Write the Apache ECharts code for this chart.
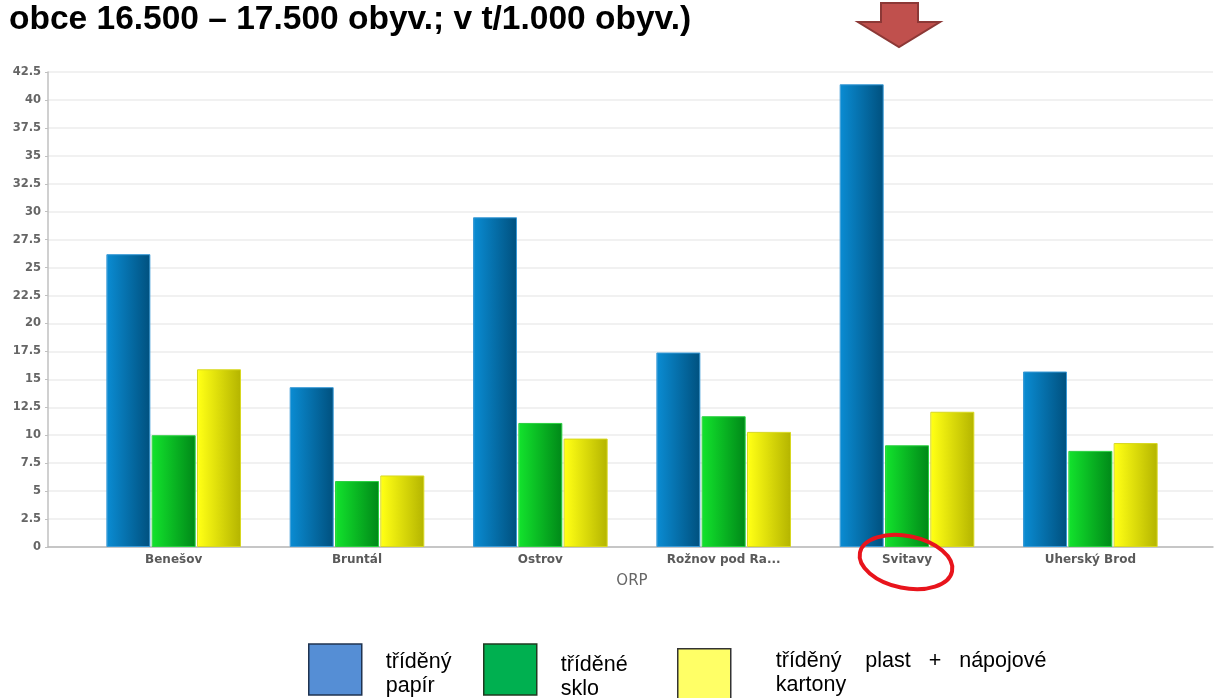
<!DOCTYPE html>
<html>
<head>
<meta charset="utf-8">
<script src="https://cdn.jsdelivr.net/npm/echarts@6/dist/echarts.min.js"></script>
<style>html,body{margin:0;padding:0;background:#fff;}#c{width:1215px;height:698px;}</style>
</head>
<body>
<div id="c"></div>
<script>
const titleText = 'obce 16.500 – 17.500 obyv.; v t/1.000 obyv.)';
const categories = ['Benešov', 'Bruntál', 'Ostrov', 'Rožnov pod Ra...', 'Svitavy', 'Uherský Brod'];
const seriesNames = ['tříděný papír', 'tříděné sklo', 'tříděný plast + nápojové kartony'];
const paper = [26.2, 14.3, 29.5, 17.4, 41.4, 15.7];
const glass = [10.0, 5.9, 11.1, 11.7, 9.1, 8.6];
const plastic = [15.9, 6.4, 9.7, 10.3, 12.1, 9.3];
const xAxisName = 'ORP';
const legendLines = [['tříděný', 'papír'], ['tříděné', 'sklo'], ['tříděný    plast   +   nápojové', 'kartony']];

function grad(c1, c2, c3) {
  return new echarts.graphic.LinearGradient(0, 0, 1, 0, [
    {offset: 0, color: c1}, {offset: 0.04, color: c2}, {offset: 1, color: c3}
  ]);
}
const barStyles = [
  {color: grad('#5ab4e6', '#0a8ad0', '#00507e'), borderColor: '#3a9ad6'},
  {color: grad('#6ef27a', '#12e02c', '#008818'), borderColor: '#2ad040'},
  {color: grad('#ffff9a', '#ffff14', '#b4b400'), borderColor: '#d8d820'}
];
const values = [paper, glass, plastic];

const chart = echarts.init(document.getElementById('c'), null, {renderer: 'canvas'});
const yAxisCommon = {type: 'value', min: 0, max: 42.5, interval: 2.5};
const fontAxis = 'DejaVu Sans';
const tStyle = {fontFamily: 'Liberation Sans', fontSize: 21.5, color: '#000', lineHeight: 24};
function legendTextStyle(shiftPx, padLeft) {
  return Object.assign({padding: [0, 0, 0, padLeft],
    rich: {t: Object.assign({}, tStyle), s: {fontSize: 1, lineHeight: shiftPx * 2}}}, tStyle);
}
function legendFormatter(lines, shiftPx) {
  const body = lines.map(l => '{t|' + l + '}').join('\n');
  return shiftPx > 0 ? '{s| }\n' + body : body;
}

const option = {
  backgroundColor: '#ffffff',
  animation: false,
  title: {
    text: titleText, left: 9, top: 3, padding: 0,
    textStyle: {fontFamily: 'Liberation Sans', fontWeight: 'bold', fontSize: 33.5, color: '#000'}
  },
  grid: [
    {left: 48, right: 2, top: 72, bottom: 151},
    {left: 82, right: 33, top: 72, bottom: 151}
  ],
  xAxis: [
    {type: 'value', gridIndex: 0, min: 0, max: 1, show: true, axisLine: {show: true, lineStyle: {color: '#b8b8b8', width: 1.5}},
      axisTick: {show: false}, axisLabel: {show: false}, splitLine: {show: false}},
    {type: 'category', gridIndex: 1, data: categories,
      axisLine: {show: false}, axisTick: {show: false},
      axisLabel: {color: '#5a5a5a', fontFamily: fontAxis, fontWeight: 'bold', fontSize: 12, margin: 7},
      name: xAxisName, nameLocation: 'middle', nameGap: 27,
      nameTextStyle: {color: '#666', fontFamily: fontAxis, fontSize: 15}}
  ],
  yAxis: [
    Object.assign({gridIndex: 0,
      axisLine: {show: true, lineStyle: {color: '#c0c0c0', width: 1.5}},
      axisTick: {show: true, length: 3, lineStyle: {color: '#c0c0c0'}},
      axisLabel: {color: '#666', fontFamily: fontAxis, fontWeight: 'bold', fontSize: 11.5, margin: 7},
      splitLine: {show: true, lineStyle: {color: '#ececec', width: 1.5}}}, yAxisCommon),
    Object.assign({gridIndex: 1, show: false, splitLine: {show: false}}, yAxisCommon)
  ],
  legend: [
    {data: [{name: seriesNames[0], icon: 'rect', itemStyle: {color: '#558ed5', borderColor: '#1f3350', borderWidth: 1.5}}],
      left: 308, top: 641, itemWidth: 53, itemHeight: 51, selectedMode: false, padding: 0,
      formatter: () => legendFormatter(legendLines[0], 4.5),
      textStyle: legendTextStyle(4.5, 19)},
    {data: [{name: seriesNames[1], icon: 'rect', itemStyle: {color: '#00b050', borderColor: '#1f3a20', borderWidth: 1.5}}],
      left: 483, top: 638, itemWidth: 53, itemHeight: 51, selectedMode: false, padding: 0,
      formatter: () => legendFormatter(legendLines[1], 7.5),
      textStyle: legendTextStyle(7.5, 19)},
    {data: [{name: seriesNames[2], icon: 'rect', itemStyle: {color: '#ffff66', borderColor: '#333', borderWidth: 1.5}}],
      left: 677, top: 648, itemWidth: 53, itemHeight: 51, selectedMode: false, padding: 0,
      formatter: () => legendFormatter(legendLines[2], 0),
      textStyle: Object.assign(legendTextStyle(0, 40), {padding: [0, 0, 3, 40]})}
  ],
  series: values.map((v, i) => ({
    name: seriesNames[i], type: 'bar', xAxisIndex: 1, yAxisIndex: 1,
    data: v, barWidth: 44, barGap: '3%',
    itemStyle: {color: barStyles[i].color, borderColor: barStyles[i].borderColor, borderWidth: 1}
  })),
  graphic: [
    {type: 'polygon', z: 100,
      shape: {points: [[881, 3], [918, 3], [918, 22], [940, 22], [899, 47], [858, 22], [881, 22]]},
      style: {fill: '#c0504d', stroke: '#8c3836', lineWidth: 2}},
    {type: 'ellipse', z: 100, originX: 906, originY: 562, rotation: -0.2,
      shape: {cx: 906, cy: 562, rx: 47, ry: 26},
      style: {fill: 'none', stroke: '#e8141c', lineWidth: 4}}
  ]
};
chart.setOption(option);
</script>
</body>
</html>
